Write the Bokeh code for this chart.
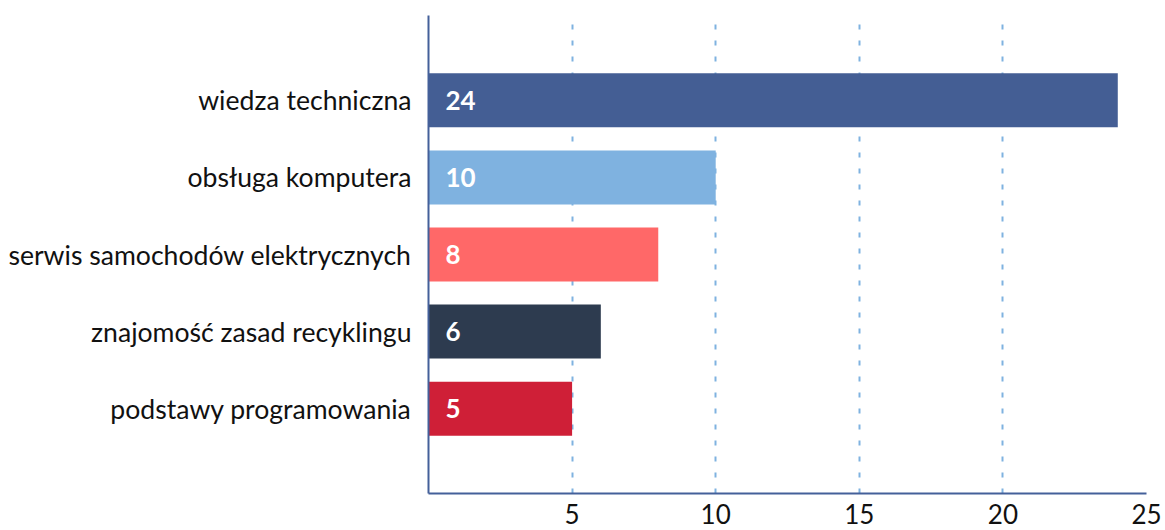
from bokeh.plotting import figure
from bokeh.models import ColumnDataSource, FactorRange, Range1d, FixedTicker, LabelSet
from bokeh.core.properties import value
from bokeh.embed import file_html
from bokeh.resources import INLINE

categories = ["wiedza techniczna", "obsługa komputera", "serwis samochodów elektrycznych",
              "znajomość zasad recyklingu", "podstawy programowania"]
values = [24, 10, 8, 6, 5]
colors = ["#445e94", "#7fb2e0", "#ff6868", "#2d3b4f", "#cf1f37"]
x_ticks = [5, 10, 15, 20, 25]

FONT = "Lato"

src = ColumnDataSource(dict(cat=categories, val=values, color=colors,
                            lbl=[str(v) for v in values], x0=[0]*len(values)))

p = figure(width=1165, height=530, output_backend="svg", toolbar_location=None,
           y_range=FactorRange(factors=categories[::-1], range_padding=0.6,
                               range_padding_units="absolute"),
           x_range=Range1d(0, 25),
           min_border_left=428, min_border_right=19, min_border_top=15, min_border_bottom=37)

p.outline_line_color = None
p.background_fill_color = "white"
p.border_fill_color = "white"

p.hbar(y="cat", left=0, right="val", height=0.7, color="color", source=src, line_color=None)

labels = LabelSet(x="x0", y="cat", text="lbl", source=src, x_offset=17, y_offset=0,
                  text_color="white", text_font=value(FONT), text_font_style="bold",
                  text_font_size="26px", text_baseline="middle", text_align="left")
p.add_layout(labels)

p.ygrid.grid_line_color = None
p.xgrid.ticker = FixedTicker(ticks=x_ticks)
p.xgrid.grid_line_color = "#7fb2e0"
p.xgrid.grid_line_width = 2
p.xgrid.grid_line_dash = "5 11"

p.xaxis.ticker = FixedTicker(ticks=x_ticks)
for ax in (p.xaxis[0], p.yaxis[0]):
    ax.axis_line_color = "#44609a"
    ax.axis_line_width = 2
    ax.major_tick_line_color = None
    ax.minor_tick_line_color = None
    ax.major_label_text_font = FONT
    ax.major_label_text_color = "#111111"
p.xaxis.major_label_text_font_size = "26px"
p.yaxis.major_label_text_font_size = "26.6px"
p.xaxis.major_label_standoff = 4
p.yaxis.major_label_standoff = 11

open("out.html", "w").write(file_html(p, INLINE))
